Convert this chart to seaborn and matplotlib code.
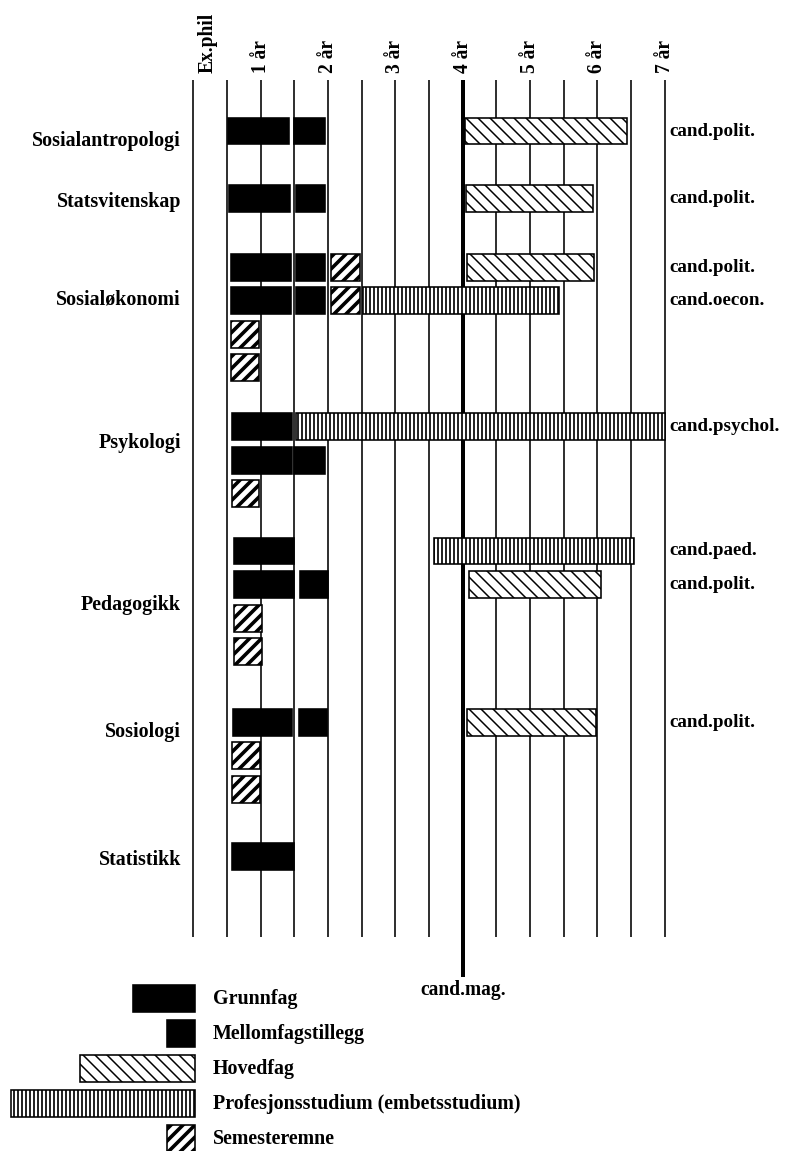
import matplotlib
matplotlib.use("Agg")
import matplotlib.pyplot as plt
import seaborn as sns
import pandas as pd

# ---- data ---------------------------------------------------------------
subjects = ["Sosialantropologi", "Statsvitenskap", "Sosialøkonomi",
            "Psykologi", "Pedagogikk", "Sosiologi", "Statistikk"]
rows_per_subject = [1, 1, 4, 3, 4, 3, 1]

kind_codes = ["G", "M", "H", "P", "S"]
kind_names = ["Grunnfag", "Mellomfagstillegg", "Hovedfag",
              "Profesjonsstudium (embetsstudium)", "Semesteremne"]

# one entry per bar (start / end in years of study)
seg_subject = [0, 0, 0, 1, 1, 1, 2, 2, 2, 2, 2, 2, 2, 2, 2, 2,
               3, 3, 3, 3, 3, 4, 4, 4, 4, 4, 4, 4, 5, 5, 5, 5, 5, 6]
seg_row = [0, 0, 0, 0, 0, 0, 0, 0, 0, 0, 1, 1, 1, 1, 2, 3,
           0, 0, 1, 1, 2, 0, 0, 1, 1, 1, 2, 3, 0, 0, 0, 1, 2, 0]
seg_kind = ["G", "M", "H", "G", "M", "H", "G", "M", "S", "H", "G", "M", "S", "P", "S", "S",
            "G", "P", "G", "M", "S", "G", "P", "G", "M", "H", "S", "S", "G", "M", "H", "S", "S", "G"]
seg_start = [0.52, 1.50, 4.04, 0.53, 1.52, 4.05, 0.55, 1.52, 2.04, 4.06, 0.55, 1.52, 2.04, 2.52, 0.55, 0.55,
             0.57, 1.52, 0.57, 1.50, 0.57, 0.60, 3.58, 0.60, 1.58, 4.09, 0.60, 0.60, 0.58, 1.57, 4.07, 0.57, 0.57, 0.57]
seg_end = [1.42, 1.95, 6.44, 1.43, 1.95, 5.94, 1.45, 1.95, 2.47, 5.95, 1.45, 1.95, 2.47, 5.43, 0.97, 0.98,
           1.47, 7.00, 1.47, 1.96, 0.98, 1.50, 6.55, 1.50, 2.00, 6.06, 1.02, 1.02, 1.47, 1.99, 5.98, 0.99, 0.99, 1.50]

deg_subject = [0, 1, 2, 2, 3, 4, 4, 5]
deg_row = [0, 0, 0, 1, 0, 0, 1, 0]
deg_text = ["cand.polit.", "cand.polit.", "cand.polit.", "cand.oecon.",
            "cand.psychol.", "cand.paed.", "cand.polit.", "cand.polit."]

header_labels = ["Ex.phil", "1 år", "2 år", "3 år", "4 år", "5 år", "6 år", "7 år"]
header_pos = [0.215, 1, 2, 3, 4, 5, 6, 7]
grid_years = [0, 0.5, 1, 1.5, 2, 2.5, 3, 3.5, 4, 4.5, 5, 5.5, 6, 6.5, 7]
cand_mag_year = 4

# ---- layout / style -----------------------------------------------------
group_gap = [0, 2.0, 2.05, 1.75, 1.7, 2.1, 2.0]
label_offset = [0.3, 0.12, 0.95, 0.5, 1.6, 0.3, 0.1]
legend_width = [0.92, 0.42, 1.71, 2.73, 0.42]
BAR_H = 0.8

styles = {
    "G": dict(color="black", hatch=None, hlw=1.0),
    "M": dict(color="black", hatch=None, hlw=1.0),
    "H": dict(color="white", hatch="\\\\", hlw=1.5),
    "P": dict(color="white", hatch="|||", hlw=1.7),
    "S": dict(color="white", hatch="//", hlw=3.6),
}

sns.set_theme(style="white")
plt.rcParams["font.family"] = ["Liberation Serif", "DejaVu Serif"]
plt.rcParams["text.color"] = "black"
plt.rcParams["hatch.color"] = "black"

df = pd.DataFrame({"subject": seg_subject, "row": seg_row, "kind": seg_kind,
                   "start": seg_start, "end": seg_end})

# row slot of every subject's first row
first_slot = []
pos = 0.0
for i, n in enumerate(rows_per_subject):
    pos += group_gap[i]
    first_slot.append(pos)
    pos += n - 1
df["y"] = [first_slot[s] + r for s, r in zip(df["subject"], df["row"])]

fig = plt.figure(figsize=(11, 1151 / 72), dpi=72)
ax = fig.add_axes([0, 0, 1, 1])
ax.set_xlim(-2.875, 8.893)
ax.set_ylim(30.36, -3.90)
ax.axis("off")


def draw_bar(y, left, width, kind):
    st = styles[kind]
    with plt.rc_context({"hatch.linewidth": st["hlw"]}):
        bars = ax.barh(y, width, left=left, height=BAR_H, color=st["color"],
                       edgecolor="black", linewidth=1.6, hatch=st["hatch"], zorder=3)
    for b in bars:
        if hasattr(b, "set_hatch_linewidth"):
            b.set_hatch_linewidth(st["hlw"])


# vertical year lines
for yr in grid_years:
    thick = yr == cand_mag_year
    ax.vlines(yr, -1.52, 25.18 if thick else 23.99, color="black",
              linewidth=4.0 if thick else 1.6, zorder=1)

for lab, xp in zip(header_labels, header_pos):
    ax.text(xp, -1.73, lab, rotation=90, ha="center", va="bottom",
            fontsize=19.5, fontweight="bold")

ax.text(cand_mag_year, 25.27, "cand.mag.", ha="center", va="top",
        fontsize=19.5, fontweight="bold")

# bars
for _, r in df.iterrows():
    draw_bar(r["y"], r["start"], r["end"] - r["start"], r["kind"])

# subject names
for i, name in enumerate(subjects):
    ax.text(-0.186, first_slot[i] + label_offset[i], name, ha="right", va="center",
            fontsize=20, fontweight="bold")

# degree labels
for s, r, t in zip(deg_subject, deg_row, deg_text):
    ax.text(7.065, first_slot[s] + r, t, ha="left", va="center",
            fontsize=19, fontweight="bold")

# legend
for i, (code, name) in enumerate(zip(kind_codes, kind_names)):
    y = 25.83 + i * 1.04
    w = legend_width[i]
    draw_bar(y, 0.02 - w, w, code)
    ax.text(0.29, y, name, ha="left", va="center", fontsize=20, fontweight="bold")

fig.savefig("out.png", dpi=72)
